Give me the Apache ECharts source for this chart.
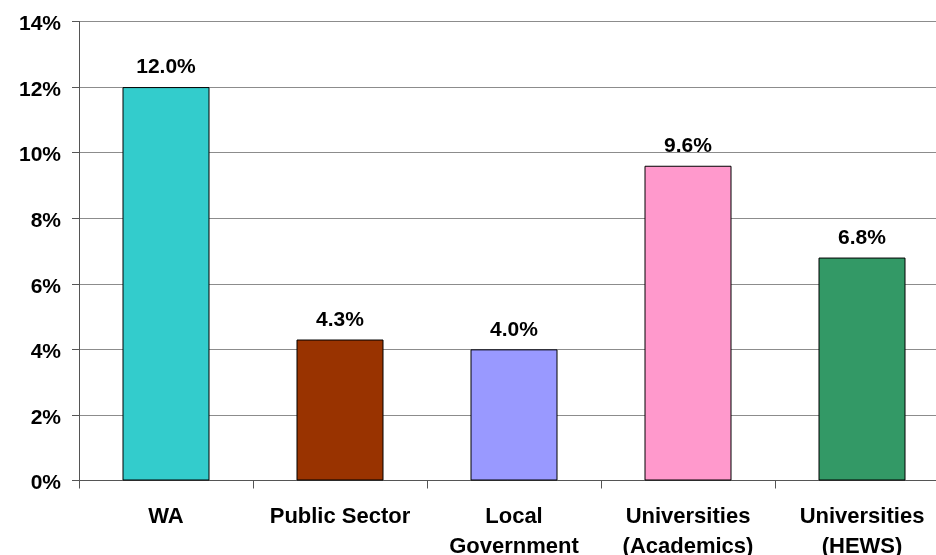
<!DOCTYPE html>
<html>
<head>
<meta charset="utf-8">
<script src="https://cdn.jsdelivr.net/npm/echarts@6/dist/echarts.min.js"></script>
<style>
  html, body { margin: 0; padding: 0; background: #ffffff; }
  #chart { width: 936px; height: 555px; }
</style>
</head>
<body>
<div id="chart"></div>
<script>
// Share of workforce by sector (percent)
const categories = ['WA', 'Public Sector', 'Local\nGovernment', 'Universities\n(Academics)', 'Universities\n(HEWS)'];
const values = [12.0, 4.3, 4.0, 9.6, 6.8];
const barColors = ['#33CCCC', '#993300', '#9999FF', '#FF99CC', '#339966'];
const yTicks = { min: 0, max: 14, interval: 2 };

const FONT = '"Liberation Sans", Arial, Helvetica, sans-serif';

const chart = echarts.init(document.getElementById('chart'), null, { renderer: 'canvas' });

chart.setOption({
  animation: false,
  backgroundColor: '#ffffff',
  // plot runs slightly past the right edge of the canvas
  grid: {
    left: 79, top: 21.5, width: 870, bottom: 74.5,
    containLabel: false,
    outerBoundsMode: 'none'
  },
  xAxis: {
    type: 'category',
    data: categories,
    axisLine: { show: true, lineStyle: { color: '#555555', width: 1 } },
    axisTick: { show: true, length: 8, lineStyle: { color: '#555555' } },
    axisLabel: {
      margin: 21,
      color: '#000000',
      fontFamily: FONT,
      fontWeight: 'bold',
      fontSize: 22,
      lineHeight: 30,
      interval: 0
    },
    splitLine: { show: false }
  },
  yAxis: {
    type: 'value',
    min: yTicks.min,
    max: yTicks.max,
    interval: yTicks.interval,
    axisLine: { show: true, lineStyle: { color: '#555555', width: 1 } },
    axisTick: { show: true, length: 7, lineStyle: { color: '#555555' } },
    axisLabel: {
      margin: 18,
      formatter: v => '{p|' + v + '%}',
      rich: {
        p: {
          padding: [6, 0, 0, 0],
          color: '#000000',
          fontFamily: FONT,
          fontWeight: 'bold',
          fontSize: 21
        }
      }
    },
    splitLine: { show: true, lineStyle: { color: '#8c8c8c', width: 1 } }
  },
  series: [{
    type: 'bar',
    barWidth: '50%',
    data: values.map((v, i) => ({
      value: v,
      itemStyle: { color: barColors[i], borderColor: '#000000', borderWidth: 1 }
    })),
    label: {
      show: true,
      position: 'top',
      distance: 9,
      color: '#000000',
      fontFamily: FONT,
      fontWeight: 'bold',
      fontSize: 21,
      formatter: p => p.value.toFixed(1) + '%'
    }
  }]
});
</script>
</body>
</html>
